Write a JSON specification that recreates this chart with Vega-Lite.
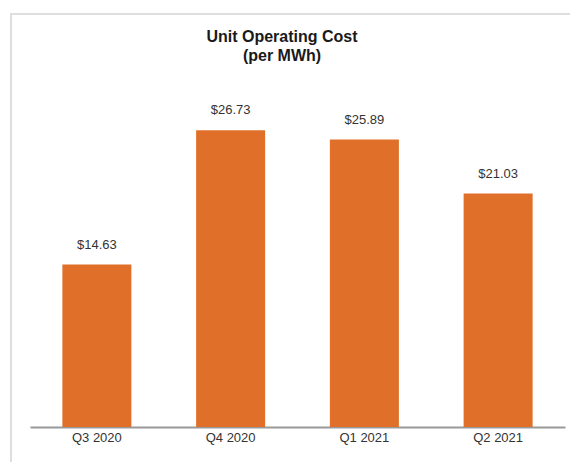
{
  "$schema": "https://vega.github.io/schema/vega-lite/v6.json",
  "autosize": "none",
  "width": 565,
  "height": 456,
  "padding": {"left": 11, "top": 14, "right": 0, "bottom": 0},
  "background": "white",
  "title": {
    "text": ["Unit Operating Cost", "(per MWh)"],
    "font": "Liberation Sans",
    "fontSize": 16,
    "fontWeight": "bold",
    "color": "#1a1a1a",
    "anchor": "middle",
    "dx": -11.5,
    "lineHeight": 19,
    "offset": -50
  },
  "data": {
    "values": [
      {"quarter": "Q3 2020", "cost": 14.63, "label": "$14.63"},
      {"quarter": "Q4 2020", "cost": 26.73, "label": "$26.73"},
      {"quarter": "Q1 2021", "cost": 25.89, "label": "$25.89"},
      {"quarter": "Q2 2021", "cost": 21.03, "label": "$21.03"}
    ]
  },
  "encoding": {
    "x": {
      "field": "quarter",
      "type": "nominal",
      "sort": null,
      "scale": {"paddingInner": 0.484, "paddingOuter": 0.242, "range": [19, 554]},
      "axis": {
        "title": null,
        "labelAngle": 0,
        "ticks": false,
        "grid": false,
        "offset": -43,
        "domainColor": "#999999",
        "domainWidth": 2,
        "labelFont": "Liberation Sans",
        "labelFontSize": 13,
        "labelColor": "#333333",
        "labelPadding": 4
      }
    },
    "y": {
      "field": "cost",
      "type": "quantitative",
      "scale": {"domain": [0, 30], "range": [413, 80]},
      "axis": null
    }
  },
  "layer": [
    {"mark": {"type": "bar", "color": "#E07029"}},
    {
      "mark": {
        "type": "text",
        "dy": -16,
        "baseline": "alphabetic",
        "font": "Liberation Sans",
        "fontSize": 13,
        "color": "#333333"
      },
      "encoding": {"text": {"field": "label"}}
    }
  ],
  "config": {"view": {"stroke": "#dedede", "strokeWidth": 2}}
}
